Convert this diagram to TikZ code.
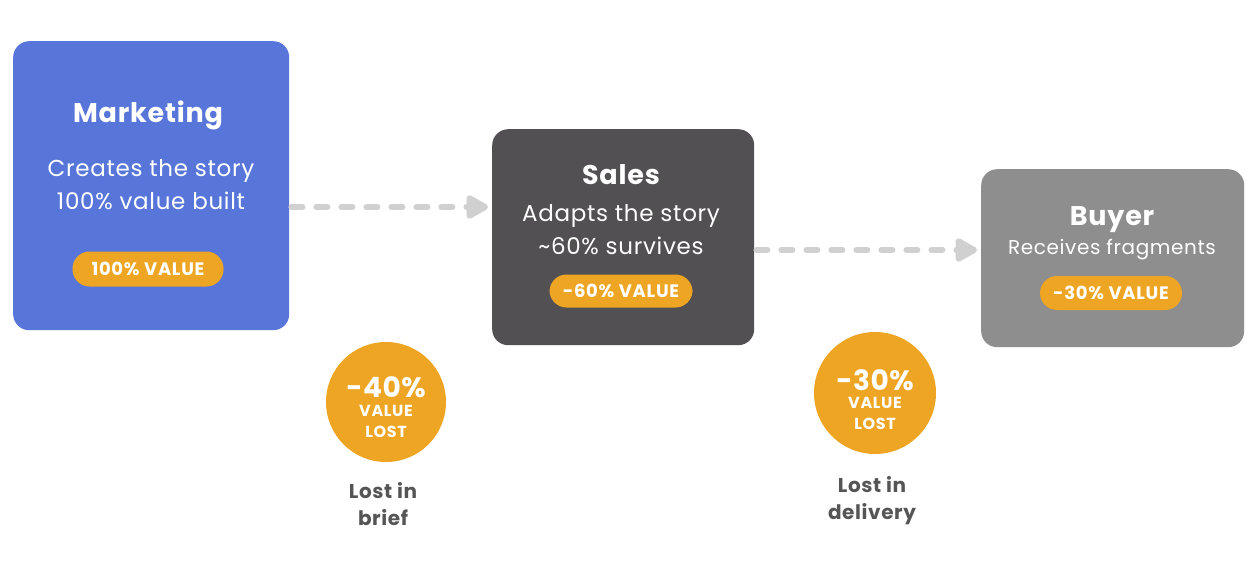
\documentclass[tikz,border=0pt]{standalone}
\usepackage{fontspec}
\setmainfont{Poppins}
\usetikzlibrary{arrows.meta}
\definecolor{mkblue}{HTML}{5876D9}
\definecolor{slgray}{HTML}{525052}
\definecolor{bygray}{HTML}{8E8E8E}
\definecolor{orng}{HTML}{EDA523}
\definecolor{arrg}{HTML}{D0D0D0}
\definecolor{lbl}{HTML}{555555}
\newcommand{\ls}[1]{\addfontfeature{LetterSpace=#1}}
\tikzset{
  card/.style={rounded corners=16pt, inner sep=0pt, anchor=north west, draw=none},
  ttl/.style={text=white, font=\bfseries\fontsize{27}{30}\selectfont\ls{3}, inner sep=0pt},
  sub/.style={text=white, font=\fontsize{23}{33}\selectfont\ls{3}, inner sep=0pt, align=center},
  pill/.style={fill=orng, rounded corners=17pt, text=white, font=\bfseries\fontsize{18}{20}\selectfont\ls{4}, inner sep=0pt},
  disc/.style={circle, fill=orng, inner sep=0pt},
  big/.style={text=white, font=\bfseries\fontsize{28}{30}\selectfont\ls{2}, inner sep=0pt, anchor=base, text depth=0pt},
  sml/.style={text=white, font=\bfseries\fontsize{16}{21}\selectfont\ls{4}, inner sep=0pt, anchor=base, text depth=0pt},
  losslabel/.style={text=lbl, font=\bfseries\fontsize{20}{27}\selectfont\ls{3}, inner sep=0pt, align=center},
  flow/.style={draw=arrg, line width=6pt, line cap=round, dash pattern=on 11pt off 14pt, -{Triangle[length=25pt,width=26pt,round]}}
}
\begin{document}
\begin{tikzpicture}[x=1pt,y=-1pt]
\useasboundingbox (0,0) rectangle (1258,568);
% boxes
\node[card, fill=mkblue, minimum width=276pt, minimum height=289pt] (mk) at (13,41) {};
\node[card, fill=slgray, minimum width=262pt, minimum height=216pt] (sl) at (492,129) {};
\node[card, fill=bygray, minimum width=263pt, minimum height=178pt] (by) at (981,169) {};
% marketing
\node[ttl] (mkt) at (148,115) {Marketing};
\node[sub] (mks) at (151,185) {Creates the story\\100\% value built};
\node[pill, minimum width=151pt, minimum height=35pt] (mkp) at (148,269) {100\% VALUE};
% sales
\node[ttl] (slt) at (621,175) {Sales};
\node[sub] (sls) at (621,230) {Adapts the story\\\textasciitilde60\% survives};
\node[pill, minimum width=143pt, minimum height=33pt] (slp) at (621,291) {-60\% VALUE};
% buyer
\node[ttl] (byt) at (1112,220) {Buyer};
\node[sub, font=\fontsize{20}{24}\selectfont\ls{3}] (bys) at (1112,250) {Receives fragments};
\node[pill, minimum width=142pt, minimum height=34pt] (byp) at (1111,293) {-30\% VALUE};
% arrows
\coordinate (a1) at (0,207);
\coordinate (a2) at (0,250);
\draw[flow] ([xshift=2pt]mk.east |- a1) -- ([xshift=-4pt]sl.west |- a1);
\draw[flow] ([xshift=2pt]sl.east |- a2) -- ([xshift=-4pt]by.west |- a2);
% loss discs
\node[disc, minimum size=120pt] (d1) at (386,402) {};
\node[big] (d1a) at (386,397) {-40\%};
\node[sml] (d1b) at (386,416) {VALUE};
\node[sml] (d1c) at (386,437) {LOST};
\node[losslabel] (c1) at (383,504) {Lost in\\brief};
\node[disc, minimum size=122pt] (d2) at (875,393) {};
\node[big] (d2a) at (875,390) {-30\%};
\node[sml] (d2b) at (875,408) {VALUE};
\node[sml] (d2c) at (875,429) {LOST};
\node[losslabel] (c2) at (872,501) {Lost in\\delivery};
\end{tikzpicture}
\end{document}
